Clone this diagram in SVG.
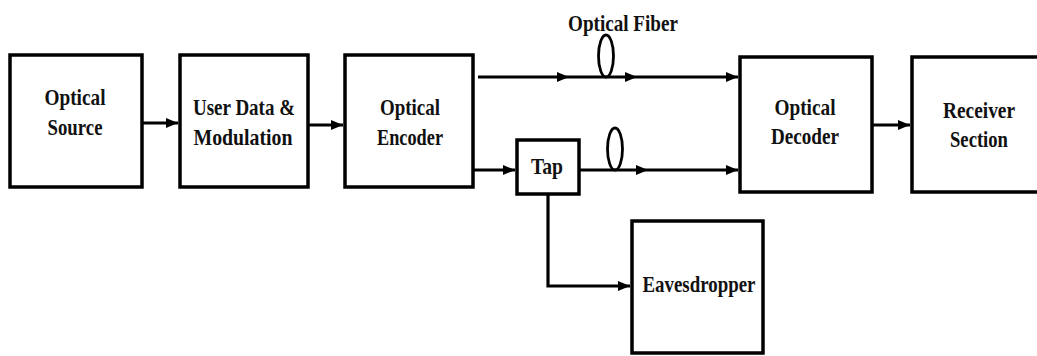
<svg xmlns="http://www.w3.org/2000/svg" width="1037" height="356" viewBox="0 0 1037 356">
<defs>
<style>
.box{fill:#fff;stroke:#000;stroke-width:3.5}
.t{font-family:"Liberation Serif","DejaVu Serif",serif;font-weight:bold;font-size:24px;fill:#111;text-anchor:middle}
.c{fill:none;stroke:#000;stroke-width:3.2}
.loop{fill:none;stroke:#000;stroke-width:2.8}
</style>
<marker id="ah" markerUnits="userSpaceOnUse" markerWidth="13" markerHeight="11" refX="12" refY="5.5" orient="auto" viewBox="0 0 13 11">
<path d="M0,0.5 L12,5.5 L0,10.5 z" fill="#000"/>
</marker>
</defs>
<rect width="1037" height="356" fill="#fff"/>
<g id="connectors">
<path class="c" d="M142,123 L178,123" marker-end="url(#ah)"/>
<path class="c" d="M308,125 L343,125" marker-end="url(#ah)"/>
<path class="c" d="M478,77 L569,77 L637,77 L738,77" marker-mid="url(#ah)" marker-end="url(#ah)"/>
<path class="c" d="M473,170 L515,170" marker-end="url(#ah)"/>
<path class="c" d="M579,170 L648,170 L738,170" marker-mid="url(#ah)" marker-end="url(#ah)"/>
<path class="c" d="M872,125 L910,125" marker-end="url(#ah)"/>
<path class="c" d="M548,194 L548,286 L630,286" marker-end="url(#ah)"/>
<ellipse class="loop" cx="606" cy="56" rx="7.5" ry="21"/>
<ellipse class="loop" cx="615" cy="149" rx="7.5" ry="21"/>
<text class="t" x="623" y="31" textLength="110" lengthAdjust="spacingAndGlyphs">Optical Fiber</text>
</g>
<g id="source">
<rect class="box" x="10" y="55" width="132" height="132"/>
<text class="t" x="75" y="105" textLength="61" lengthAdjust="spacingAndGlyphs">Optical</text>
<text class="t" x="75" y="135" textLength="55" lengthAdjust="spacingAndGlyphs">Source</text>
</g>
<g id="userdata">
<rect class="box" x="180" y="55" width="128" height="132"/>
<text class="t" x="244" y="115" textLength="102" lengthAdjust="spacingAndGlyphs">User Data &amp;</text>
<text class="t" x="243" y="145" textLength="99" lengthAdjust="spacingAndGlyphs">Modulation</text>
</g>
<g id="encoder">
<rect class="box" x="345" y="55" width="128" height="132"/>
<text class="t" x="410" y="115" textLength="60" lengthAdjust="spacingAndGlyphs">Optical</text>
<text class="t" x="410" y="145" textLength="66" lengthAdjust="spacingAndGlyphs">Encoder</text>
</g>
<g id="tap">
<rect class="box" x="517" y="140" width="62" height="54"/>
<text class="t" x="547" y="174" textLength="32" lengthAdjust="spacingAndGlyphs">Tap</text>
</g>
<g id="decoder">
<rect class="box" x="740" y="57" width="132" height="135"/>
<text class="t" x="805" y="115" textLength="61" lengthAdjust="spacingAndGlyphs">Optical</text>
<text class="t" x="805" y="144" textLength="68" lengthAdjust="spacingAndGlyphs">Decoder</text>
</g>
<g id="receiver">
<rect class="box" x="912" y="57" width="132" height="135"/>
<text class="t" x="979" y="118" textLength="72" lengthAdjust="spacingAndGlyphs">Receiver</text>
<text class="t" x="979" y="147" textLength="58" lengthAdjust="spacingAndGlyphs">Section</text>
</g>
<g id="eavesdropper">
<rect class="box" x="632" y="221" width="131" height="132"/>
<text class="t" x="699" y="292" textLength="113" lengthAdjust="spacingAndGlyphs">Eavesdropper</text>
</g>
</svg>
